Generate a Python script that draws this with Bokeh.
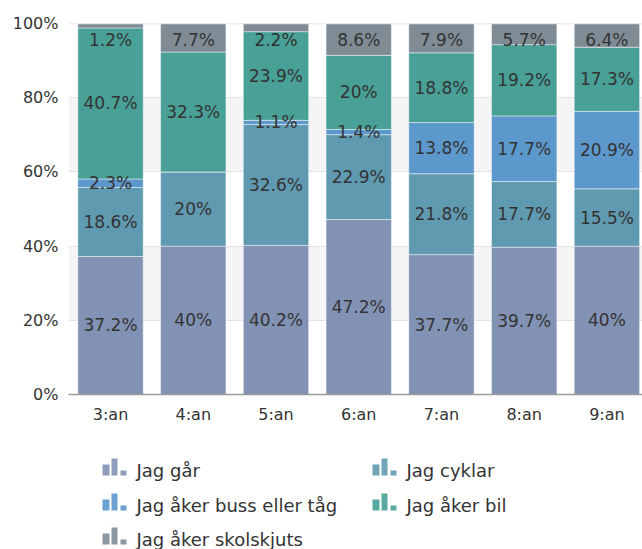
from bokeh.plotting import figure
from bokeh.layouts import column
from bokeh.models import ColumnDataSource, Range1d, FixedTicker, PrintfTickFormatter, Span
from bokeh.core.properties import value
from bokeh.embed import file_html
from bokeh.resources import INLINE

categories = ["3:an", "4:an", "5:an", "6:an", "7:an", "8:an", "9:an"]
series_names = ["Jag går", "Jag cyklar", "Jag åker buss eller tåg", "Jag åker bil", "Jag åker skolskjuts"]
gar = [37.2, 40, 40.2, 47.2, 37.7, 39.7, 40]
cyklar = [18.6, 20, 32.6, 22.9, 21.8, 17.7, 15.5]
buss = [2.3, 0, 1.1, 1.4, 13.8, 17.7, 20.9]
bil = [40.7, 32.3, 23.9, 20, 18.8, 19.2, 17.3]
skolskjuts = [1.2, 7.7, 2.2, 8.6, 7.9, 5.7, 6.4]
colors = ["#8292b4", "#609ab0", "#5c98cc", "#48a096", "#7f8c96"]
y_ticks = [0, 20, 40, 60, 80, 100]

series = [gar, cyklar, buss, bil, skolskjuts]
FONT = value("DejaVu Sans")
TXT = "#333333"

idx = list(range(len(categories)))
totals = [sum(s[i] for s in series) for i in idx]
pct = [[s[i] / totals[i] * 100 for i in idx] for s in series]
keys = ["s%d" % k for k in range(len(series))]
data = {"x": idx}
for k, p_ in zip(keys, pct):
    data[k] = p_
src = ColumnDataSource(data)

LEFT = 68
W = 642
p = figure(width=W, height=430, x_range=Range1d(-0.508, 6.43), y_range=Range1d(0, 100),
           output_backend="svg", toolbar_location=None,
           min_border_left=LEFT, min_border_right=0, min_border_top=23, min_border_bottom=36)
p.outline_line_color = None
p.background_fill_color = "white"

p.vbar_stack(keys, x="x", width=0.79, color=colors, line_color="white", line_alpha=0.45,
             line_width=1, source=src)

# data labels
lx, ly, lt = [], [], []
for i in idx:
    bottom = 0.0
    for s, pv in zip(series, pct):
        v = s[i]
        h = pv[i]
        if v > 0:
            lx.append(i)
            ly.append(min(bottom + h / 2, 95.6))
            lt.append(f"{v:g}%")
        bottom += h
p.text(x=lx, y=ly, text=lt, text_align="center", text_baseline="middle",
       text_font=FONT, text_font_size="17px", text_color=TXT)

# axes
p.yaxis.ticker = FixedTicker(ticks=y_ticks)
p.yaxis.formatter = PrintfTickFormatter(format="%d%%")
p.yaxis.axis_line_color = None
p.yaxis.major_tick_line_color = None
p.yaxis.minor_tick_line_color = None
p.yaxis.major_tick_out = 0
p.yaxis.major_label_standoff = 10
p.yaxis.major_label_text_font = "DejaVu Sans"
p.yaxis.major_label_text_font_size = "16px"
p.yaxis.major_label_text_color = TXT

p.xaxis.ticker = FixedTicker(ticks=idx)
p.xaxis.major_label_overrides = {i: c for i, c in zip(idx, categories)}
p.xaxis.axis_line_color = "#9a9a9a"
p.xaxis.axis_line_width = 1.5
p.xaxis.major_tick_line_color = None
p.xaxis.minor_tick_line_color = None
p.xaxis.major_tick_out = 0
p.xaxis.major_label_standoff = 10
p.xaxis.major_label_text_font = "DejaVu Sans"
p.xaxis.major_label_text_font_size = "16px"
p.xaxis.major_label_text_color = TXT

p.xgrid.grid_line_color = None
p.ygrid.ticker = FixedTicker(ticks=y_ticks)
p.ygrid.grid_line_color = "#e3e3e3"
p.ygrid.band_fill_color = "#f5f5f5"
p.ygrid.band_fill_alpha = 1
p.add_layout(Span(location=y_ticks[-1], dimension="width", line_color="#e3e3e3", line_width=1.5))

# legend (custom, icons drawn as small bar glyphs); its frame is aligned with the plot frame,
# so its x range is expressed in page pixels from LEFT to W
LH = 119
lg = figure(width=W, height=LH, x_range=Range1d(LEFT, W), y_range=Range1d(LH, 0),
            output_backend="svg", toolbar_location=None,
            x_axis_location=None, y_axis_location=None,
            min_border_left=LEFT, min_border_right=0, min_border_top=0, min_border_bottom=0)
lg.grid.visible = False
lg.outline_line_color = None

row_y = [40, 75, 109]
icon_l, icon_r, icon_b, icon_t, icon_c = [], [], [], [], []
tx, ty = [], []
bar_off = [(0, 7, 11), (9, 15, 17), (18, 24, 5)]
for k, name in enumerate(series_names):
    col, row = k % 2, k // 2
    x0 = 102 + 270 * col
    y0 = row_y[row]
    for a, b, h in bar_off:
        icon_l.append(x0 + a)
        icon_r.append(x0 + b)
        icon_b.append(y0 + 5)
        icon_t.append(y0 + 5 - h)
        icon_c.append(colors[k])
    tx.append(x0 + 34)
    ty.append(y0)
lg.quad(left=icon_l, right=icon_r, bottom=icon_b, top=icon_t, color=icon_c, line_color=None, alpha=0.9)
lg.text(x=tx, y=ty, text=series_names, text_align="left", text_baseline="middle",
        text_font=FONT, text_font_size="18px", text_color=TXT)

layout = column(p, lg, spacing=0)
open("out.html", "w").write(file_html(layout, INLINE))
